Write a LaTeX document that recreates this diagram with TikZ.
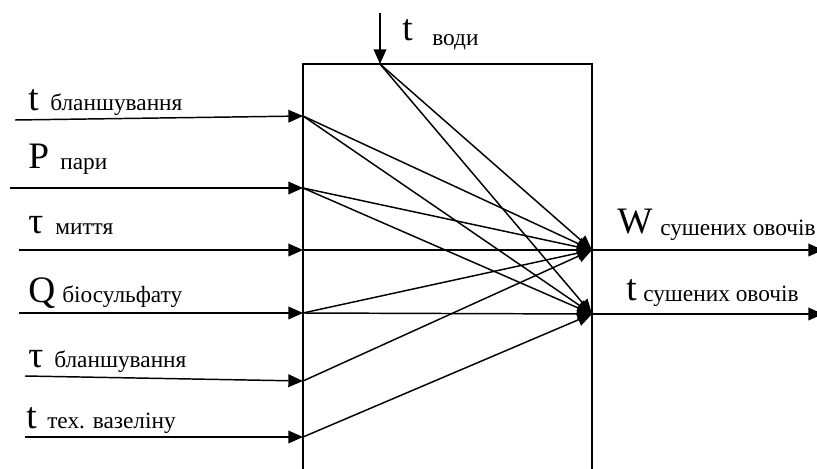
\documentclass[tikz,border=0pt]{standalone}
\usepackage{fontspec}
\setmainfont{Liberation Serif}
\newfontfamily\tnrfont{Liberation Serif}
\usetikzlibrary{arrows.meta}
\begin{document}
\begin{tikzpicture}[x=0.75pt,y=-0.75pt,
  ln/.style={line width=1.1pt},
  arr/.style={ln,-{Triangle[length=11pt,width=9.5pt]}},
  big/.style={font=\tnrfont\fontsize{28}{30}\selectfont,anchor=base west,inner sep=0pt},
  sm/.style={font=\tnrfont\fontsize{17.5}{19}\selectfont,anchor=base west,inner sep=0pt}]
\useasboundingbox (0,0) rectangle (817,468);
% box
\draw[ln] (303,475) -- (303,64) -- (592,64) -- (592,475);
% coordinates
\coordinate (s1) at (15,120);  \coordinate (i1) at (303,116);
\coordinate (s2) at (10,188);  \coordinate (i2) at (303,188);
\coordinate (s3) at (19,250);  \coordinate (i3) at (303,250);
\coordinate (s4) at (19,313);  \coordinate (i4) at (303,313);
\coordinate (s5) at (25,376);  \coordinate (i5) at (303,381);
\coordinate (s6) at (25,437);  \coordinate (i6) at (303,437);
\coordinate (st) at (380,13);  \coordinate (it) at (380,64);
\coordinate (oW) at (592,250); \coordinate (eW) at (823,250);
\coordinate (oT) at (592,314); \coordinate (eT) at (823,314);
% inputs
\foreach \k in {1,...,6} {\draw[arr] (s\k) -- (i\k);}
\draw[arr] (st) -- (it);
% internal
\foreach \p in {it,i1,i2,i3,i4,i5} {\draw[arr] (\p) -- (oW);}
\foreach \p in {it,i1,i2,i4,i6} {\draw[arr] (\p) -- (oT);}
% outputs
\draw[arr] (oW) -- (eW);
\draw[arr] (oT) -- (eT);
% labels
\node[big] (m1) at (28,110) {t};   \node[sm] (b1) at (50,110) {бланшування};
\node[big] (m2) at (28,168) {P};   \node[sm] (b2) at (60,169) {пари};
\node[big] (m3) at (28,233) {τ};   \node[sm] (b3) at (55,234) {миття};
\node[big] (m4) at (28,302) {Q};   \node[sm] (b4) at (62,302) {біосульфату};
\node[big] (m5) at (28,367) {τ};   \node[sm] (b5) at (54,367) {бланшування};
\node[big] (m6) at (26,428) {t};   \node[sm] (b6) at (47,428) {тех. вазеліну};
\node[big] (mt) at (402,40) {t};   \node[sm] (bt) at (432,45) {води};
\node[big] (mW) at (617,233) {W};  \node[sm] (bW) at (660,235) {сушених овочів};
\node[big] (mT) at (626,300) {t};  \node[sm] (bT) at (643,301) {сушених овочів};
\end{tikzpicture}
\end{document}
